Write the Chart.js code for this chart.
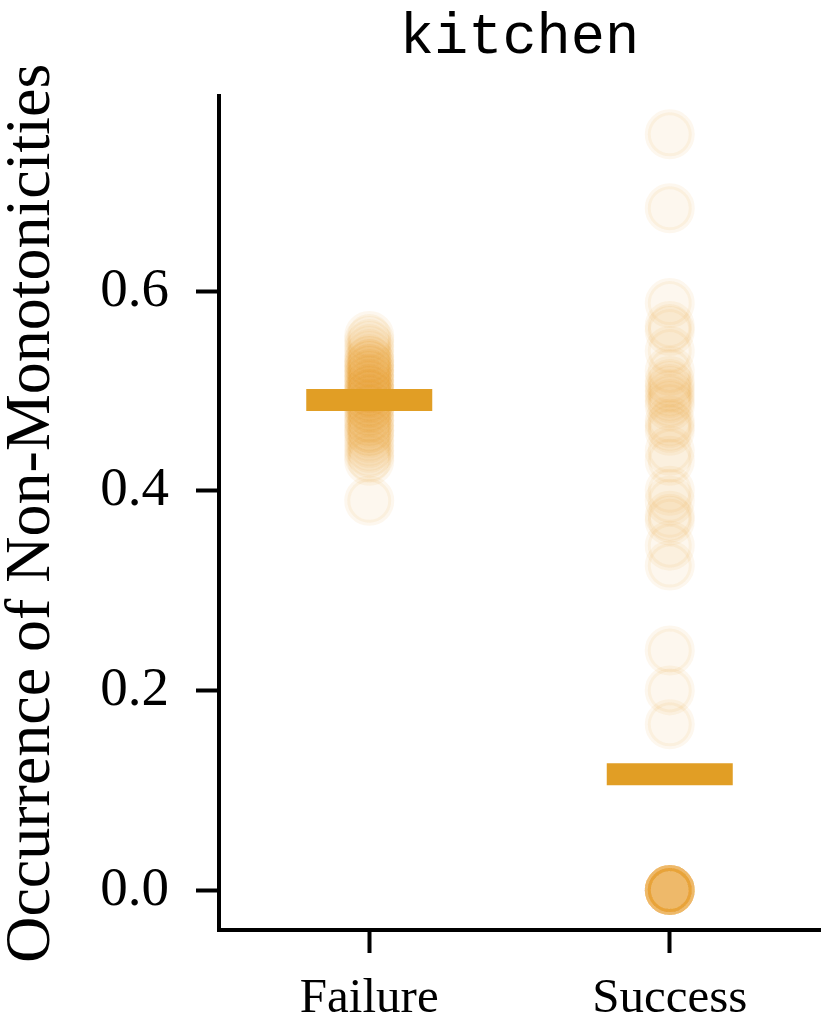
<!DOCTYPE html>
<html>
<head>
<meta charset="utf-8">
<script src="https://cdn.jsdelivr.net/npm/chart.js@4/dist/chart.umd.min.js"></script>
<style>
  body { margin: 0; background: #fff; }
  #wrap { width: 830px; height: 1033px; position: relative; }
</style>
</head>
<body>
<div id="wrap"><canvas id="stripChart"></canvas></div>
<script>
// kitchen: non-monotonicity occurrence, failure vs success

const categories = ['Failure', 'Success'];
const failureValues = [0.555, 0.55, 0.545, 0.54, 0.535, 0.53, 0.53, 0.525, 0.525, 0.52,
  0.52, 0.515, 0.515, 0.51, 0.51, 0.505, 0.505, 0.50, 0.50, 0.50,
  0.495, 0.495, 0.49, 0.49, 0.485, 0.485, 0.48, 0.48, 0.475, 0.47,
  0.47, 0.465, 0.46, 0.46, 0.455, 0.45, 0.445, 0.44, 0.435, 0.43, 0.39];
const successValues = [0.757, 0.683, 0.588, 0.565, 0.56, 0.54, 0.52, 0.51, 0.505, 0.50,
  0.495, 0.49, 0.485, 0.47, 0.465, 0.46, 0.44, 0.43, 0.40, 0.39,
  0.375, 0.37, 0.345, 0.325, 0.24, 0.20, 0.166,
  0, 0, 0, 0, 0, 0, 0, 0, 0, 0, 0, 0, 0, 0];
const medianValues = [0.491, 0.116];
const yTicks = [0, 0.2, 0.4, 0.6];

const orange = '#E19E25';
const dotFill = 'rgba(225, 158, 37, 0.08)';

const ctx = document.getElementById('stripChart');
const stripChart = new Chart(ctx, {
    type: 'line',
    data: {
        labels: categories,
        datasets: [
            {
                label: 'median',
                data: categories.map((c, i) => ({ x: c, y: medianValues[i] })),
                showLine: false,
                pointStyle: 'line',
                pointRadius: 63,
                pointBorderWidth: 22,
                pointBorderColor: orange,
                pointBackgroundColor: orange,
                order: 0
            },
            {
                label: 'Failure',
                data: failureValues.map(v => ({ x: categories[0], y: v })),
                showLine: false,
                pointRadius: 22,
                pointBorderWidth: 6,
                pointBackgroundColor: dotFill,
                pointBorderColor: dotFill,
                order: 1
            },
            {
                label: 'Success',
                data: successValues.map(v => ({ x: categories[1], y: v })),
                showLine: false,
                pointRadius: 22,
                pointBorderWidth: 6,
                pointBackgroundColor: dotFill,
                pointBorderColor: dotFill,
                order: 2
            }
        ]
    },
    options: {
        responsive: true,
        maintainAspectRatio: false,
        animation: false,
        layout: {
            autoPadding: false,
            padding: { left: 0, right: 10, top: 0, bottom: 0 }
        },
        scales: {
            x: {
                type: 'category',
                offset: true,
                afterFit: (scale) => { scale.height = 103; },
                grid: {
                    drawOnChartArea: false,
                    drawTicks: true,
                    tickLength: 23,
                    tickWidth: 4,
                    tickColor: '#000'
                },
                border: { display: true, width: 4, color: '#000' },
                ticks: {
                    padding: 17,
                    color: '#000',
                    font: { family: '"Liberation Serif", serif', size: 49 }
                }
            },
            y: {
                type: 'linear',
                min: -0.04,
                max: 0.795,
                afterFit: (scale) => { scale.width = 219; },
                afterBuildTicks: (axis) => { axis.ticks = yTicks.map(v => ({ value: v })); },
                grid: {
                    drawOnChartArea: false,
                    drawTicks: true,
                    tickLength: 23,
                    tickWidth: 4,
                    tickColor: '#000'
                },
                border: { display: true, width: 4, color: '#000' },
                ticks: {
                    padding: 27,
                    color: '#000',
                    font: { family: '"Liberation Serif", serif', size: 55 },
                    callback: (v) => Number(v).toFixed(1)
                },
                title: {
                    display: true,
                    text: 'Occurrence of Non-Monotonicities',
                    color: '#000',
                    padding: 0,
                    font: { family: '"Liberation Serif", serif', size: 64, lineHeight: 1 }
                }
            }
        },
        plugins: {
            legend: { display: false },
            tooltip: { enabled: false },
            title: {
                display: true,
                fullSize: false,
                text: 'kitchen',
                color: '#000',
                padding: { top: 4, bottom: 24 },
                font: { family: '"Liberation Mono", monospace', size: 57, weight: 'normal', lineHeight: 1.2 }
            }
        }
    }
});
</script>
</body>
</html>
